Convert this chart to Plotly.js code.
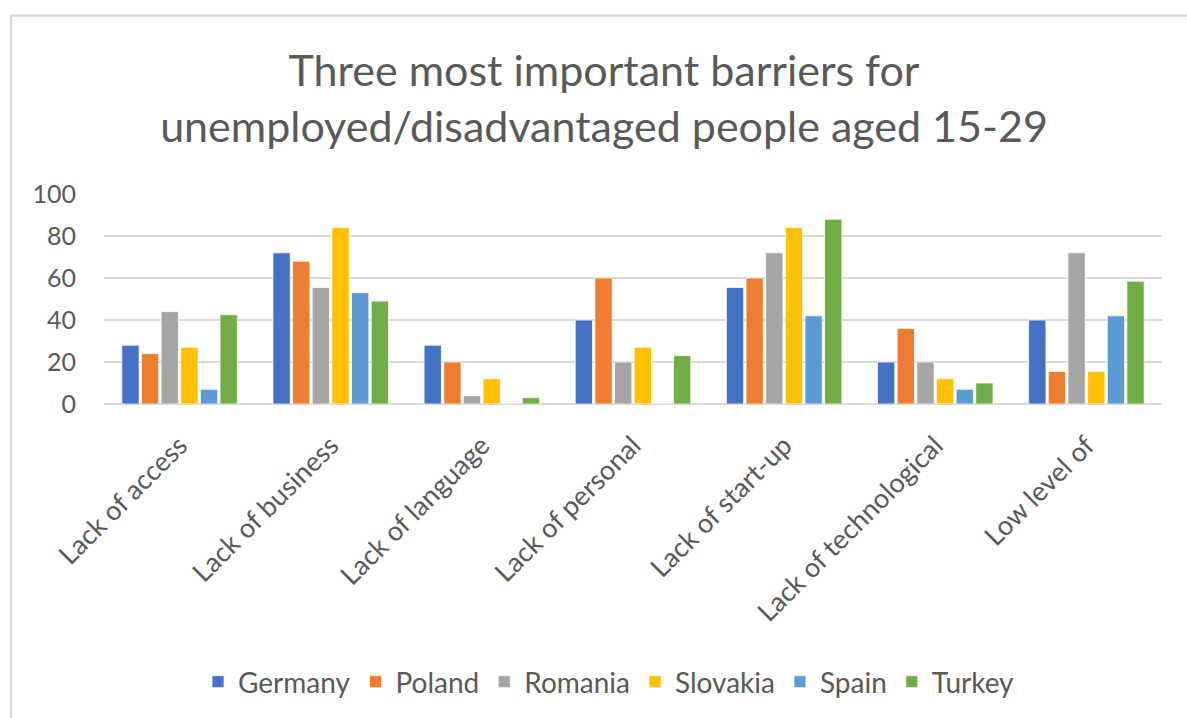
<!DOCTYPE html>
<html>
<head>
<meta charset="utf-8">
<script src="https://cdn.plot.ly/plotly-3.0.1.min.js"></script>
<style>html,body{margin:0;padding:0;background:#fff;}#chart{width:1187px;height:718px;}</style>
</head>
<body>
<div id="chart"></div>
<script>
const categories = ["Lack of access", "Lack of business", "Lack of language", "Lack of personal", "Lack of start-up", "Lack of technological", "Low level of"];
const seriesNames = ["Germany", "Poland", "Romania", "Slovakia", "Spain", "Turkey"];
const germany  = [28, 72, 28, 40, 55.5, 20, 40];
const poland   = [24, 68, 20, 60, 60, 36, 15.5];
const romania  = [44, 55.5, 4, 20, 72, 20, 72];
const slovakia = [27, 84, 12, 27, 84, 12, 15.5];
const spain    = [7, 53, 0, 0, 42, 7, 42];
const turkey   = [42.5, 49, 3, 23, 88, 10, 58.5];
const yTickVals = [0, 20, 40, 60, 80, 100];
const colors = ["#4472C4", "#ED7D31", "#A5A5A5", "#FFC000", "#5B9BD5", "#70AD47"];

const allSeries = [germany, poland, romania, slovakia, spain, turkey];
const FONT = "Lato, 'Open Sans', sans-serif";
const GRAY = "#595959";

const traces = allSeries.map((vals, i) => ({
  type: "bar",
  name: seriesNames[i],
  x: categories,
  y: vals,
  marker: {color: colors[i], line: {color: "#ffffff", width: 0.75}},
  hoverinfo: "x+y+name"
}));

// plot area in pixels
const L = 104, R = 25, T = 194, B = 314, W = 1187, H = 718;
const pw = W - L - R, ph = H - T - B;
const px = v => (v - L) / pw;
const py = v => (H - B - v) / ph;

const layout = {
  width: W, height: H,
  paper_bgcolor: "#ffffff", plot_bgcolor: "#ffffff",
  margin: {l: L, r: R, t: T, b: B, pad: 0},
  font: {family: FONT, color: GRAY, size: 20},
  title: {
    text: "Three most important barriers for<br>unemployed/disadvantaged people aged 15-29",
    font: {family: FONT, size: 43, color: GRAY},
    x: 604 / W, xanchor: "center", xref: "container",
    y: 1 - 86 / H, yanchor: "top", yref: "container"
  },
  barmode: "group",
  bargap: 0.22,
  bargroupgap: 0.12,
  showlegend: true,
  legend: {
    orientation: "h",
    x: px(609), xanchor: "center",
    y: py(682), yanchor: "middle",
    font: {family: FONT, size: 28, color: GRAY},
    itemwidth: 30,
    traceorder: "normal"
  },
  xaxis: {
    type: "category",
    tickangle: -45,
    tickfont: {family: FONT, size: 27, color: GRAY},
    ticks: "outside", ticklen: 14, tickcolor: "rgba(0,0,0,0)",
    showgrid: false, showline: false, zeroline: false
  },
  yaxis: {
    range: [0, 100],
    tickvals: yTickVals,
    ticktext: yTickVals.map(String),
    tickfont: {family: FONT, size: 25, color: GRAY},
    ticks: "outside", ticklen: 22, tickcolor: "rgba(0,0,0,0)",
    showgrid: true, gridcolor: "#d9d9d9", gridwidth: 2,
    zeroline: true, zerolinecolor: "#d9d9d9", zerolinewidth: 2,
    showline: false, fixedrange: true
  },
  shapes: [
    {type: "line", xref: "paper", yref: "paper", x0: px(11), x1: px(1190), y0: py(15.5), y1: py(15.5), line: {color: "#d9d9d9", width: 2.5}},
    {type: "line", xref: "paper", yref: "paper", x0: px(11), x1: px(11), y0: py(15.5), y1: py(720), line: {color: "#d9d9d9", width: 2.5}}
  ]
};

Plotly.newPlot("chart", traces, layout, {displayModeBar: false, staticPlot: false});
</script>
</body>
</html>
